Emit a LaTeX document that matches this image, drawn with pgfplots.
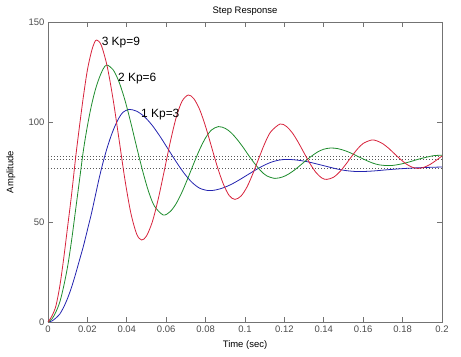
\documentclass[border=0pt]{standalone}
\usepackage{fontspec}
\setmainfont{Liberation Sans}
\usepackage{pgfplots}
\pgfplotsset{compat=1.18}
\definecolor{mred}{RGB}{215,35,60}
\definecolor{mgreen}{RGB}{30,140,45}
\definecolor{mblue}{RGB}{35,35,175}
\definecolor{axgray}{RGB}{115,115,115}
\begin{document}
\begin{tikzpicture}
\useasboundingbox (-48bp,-35bp) rectangle (413bp,322bp);
\begin{axis}[
  scale only axis, width=394bp, height=300bp,
  xmin=0, xmax=0.2, ymin=0, ymax=150,
  xtick={0,0.02,0.04,0.06,0.08,0.1,0.12,0.14,0.16,0.18,0.2},
  xticklabels={0,0.02,0.04,0.06,0.08,0.1,0.12,0.14,0.16,0.18,0.2},
  ytick={0,50,100,150},
  yticklabels={0,50,100,150},
  tick align=inside, tick pos=both,
  major tick length=5bp,
  axis line style={axgray, line width=0.7bp},
  tick style={axgray, line width=0.7bp},
  every tick label/.append style={font=\fontsize{9.5}{11}\selectfont, text=black!70},
  /pgf/number format/assume math mode=true,
  scaled x ticks=false,
  every axis title shift=0pt,
  title={Step Response},
  title style={font=\fontsize{9.5}{11}\selectfont, at={(axis description cs:0.5,1.035)}, anchor=center},
  xlabel={Time (sec)},
  xlabel style={font=\fontsize{9.5}{11}\selectfont, at={(axis description cs:0.5,-0.077)}, anchor=center},
  ylabel={Amplitude},
  ylabel style={font=\fontsize{9.5}{11}\selectfont, at={(axis description cs:-0.094,0.5)}, anchor=center},
  clip=true,
]
% dotted final-value lines
\addplot[black!65, line width=0.8bp, dash pattern=on 0.9bp off 2.1bp] coordinates {(0,82.6) (0.2,82.6)};
\addplot[black!65, line width=0.8bp, dash pattern=on 0.9bp off 2.1bp] coordinates {(0,81.3) (0.2,81.3)};
\addplot[black!65, line width=0.8bp, dash pattern=on 0.9bp off 2.1bp] coordinates {(0,76.6) (0.2,76.6)};
% Kp=3 (blue)
\addplot[mblue, line width=0.8bp, smooth] coordinates {
(0,0) (0.002,0.5) (0.004,2) (0.006,4) (0.008,7.5) (0.010,12) (0.012,17.5) (0.014,24)
(0.016,31) (0.018,38) (0.020,46) (0.022,54) (0.024,63) (0.026,72) (0.028,80) (0.030,87)
(0.032,93) (0.034,98) (0.036,102) (0.038,104.8) (0.0411,106.3) (0.045,105.4) (0.049,102.6)
(0.053,98.2) (0.057,92.6) (0.061,86.4) (0.065,80.2) (0.069,74.5) (0.073,69.9) (0.077,66.9)
(0.0814,65.7) (0.085,66) (0.089,67.1) (0.093,68.8) (0.097,71) (0.101,73.4) (0.105,75.8)
(0.109,78) (0.113,79.8) (0.117,80.9) (0.121,81.3) (0.125,81.1) (0.129,80.6) (0.133,79.85)
(0.137,78.9) (0.141,77.9) (0.145,76.9) (0.149,76.05) (0.153,75.5) (0.158,75.2) (0.165,75.5)
(0.172,76.1) (0.180,76.7) (0.190,77.2) (0.200,77.5)
};
% Kp=6 (green)
\addplot[mgreen, line width=0.8bp, smooth] coordinates {
(0,0) (0.002,1.5) (0.004,5) (0.006,10) (0.008,18) (0.010,28) (0.012,41) (0.014,56)
(0.016,71) (0.018,86) (0.020,98) (0.022,108) (0.024,116) (0.026,122) (0.028,126.5)
(0.0298,128.5) (0.033,126.2) (0.036,120.2) (0.039,111.1) (0.042,99.8) (0.045,87.5)
(0.048,75.7) (0.051,65.4) (0.054,58) (0.0585,53.5) (0.062,55.2) (0.065,59.1) (0.068,64.9)
(0.071,71.9) (0.074,79.3) (0.077,86.3) (0.080,92.1) (0.083,96) (0.0865,97.7) (0.090,96.8)
(0.093,94.6) (0.096,91.3) (0.099,87.4) (0.102,83.1) (0.105,79.1) (0.108,75.6) (0.111,73.1)
(0.1152,71.8) (0.119,72.5) (0.122,73.9) (0.125,75.9) (0.128,78.3) (0.131,80.8) (0.134,83.1)
(0.137,85.1) (0.140,86.4) (0.1435,87) (0.147,86.7) (0.150,85.9) (0.153,84.8) (0.156,83.4)
(0.159,82) (0.162,80.6) (0.165,79.4) (0.168,78.6) (0.172,78.2) (0.175,78.3) (0.178,78.75)
(0.181,79.4) (0.184,80.2) (0.187,81.1) (0.190,81.9) (0.193,82.6) (0.196,83.2) (0.200,83.4)
};
% Kp=9 (red)
\addplot[mred, line width=0.8bp, smooth] coordinates {
(0,0) (0.002,3) (0.004,8) (0.006,18) (0.008,32) (0.010,48) (0.012,64) (0.014,82)
(0.016,98) (0.018,113) (0.020,126) (0.022,135) (0.0235,139.5) (0.0247,141) (0.027,138.5)
(0.030,128) (0.033,111.6) (0.036,91.7) (0.039,71.5) (0.042,54.7) (0.045,44) (0.0475,41)
(0.050,43) (0.053,50.2) (0.056,61.7) (0.059,75.5) (0.062,89.7) (0.065,102) (0.068,110.3)
(0.0712,113.5) (0.074,111.7) (0.077,106.2) (0.080,97.7) (0.083,87.6) (0.086,77.5) (0.089,69)
(0.092,63.2) (0.0949,61.3) (0.098,63) (0.101,67.5) (0.104,74.2) (0.107,81.8) (0.110,89.2)
(0.113,95) (0.1178,99) (0.121,97.8) (0.124,94.6) (0.127,89.9) (0.130,84.5) (0.133,79.2)
(0.136,74.8) (0.139,72) (0.1415,71.3) (0.145,72.4) (0.148,75) (0.151,78.6) (0.154,82.6)
(0.157,86.4) (0.160,89.3) (0.1643,91) (0.167,90.55) (0.170,89.1) (0.173,86.8) (0.176,84)
(0.179,81.3) (0.182,78.9) (0.185,77.35) (0.188,76.8) (0.191,77.4) (0.194,78.8) (0.197,80.8)
(0.200,83)
};
\node[anchor=west, inner sep=0pt, font=\fontsize{12}{14}\selectfont] at (axis cs:0.0272,139.5) {3 Kp=9};
\node[anchor=west, inner sep=0pt, font=\fontsize{12}{14}\selectfont] at (axis cs:0.0355,121.5) {2 Kp=6};
\node[anchor=west, inner sep=0pt, font=\fontsize{12}{14}\selectfont] at (axis cs:0.0472,103.5) {1 Kp=3};
\end{axis}
\end{tikzpicture}
\end{document}
